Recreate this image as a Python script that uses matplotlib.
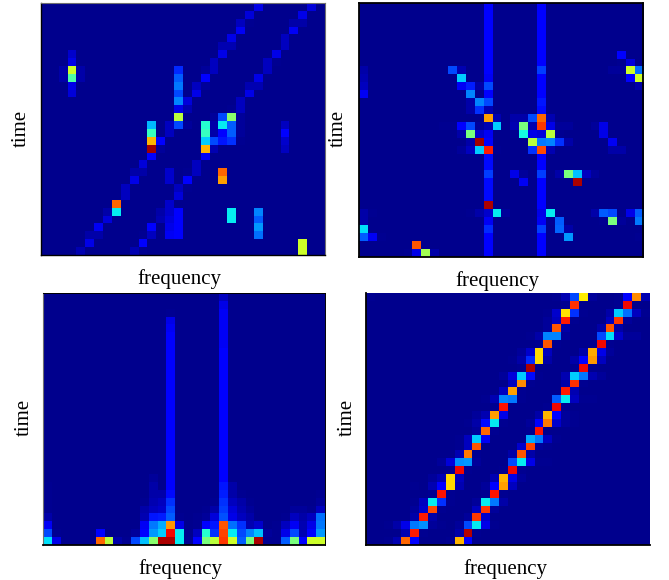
"""Four time-frequency heat maps, jet colour map, 2x2 layout."""
import matplotlib
matplotlib.use("Agg")
import matplotlib.pyplot as plt
from matplotlib.lines import Line2D
import numpy as np

plt.rcParams.update({
    "font.family": ["Liberation Serif", "DejaVu Serif"],
    "font.size": 15,
})

W, H = 669, 580
N_TIME = 32
N_FREQ = 32

# ── panel data: (row, column, value), row 0 is the top row ──
P1_CELLS = [
    (6, 3, .08), (7, 3, .1), (8, 3, .6), (9, 3, .45), (10, 3, .1), (11, 3, .09),
    (8, 2, .05), (9, 2, .05), (8, 4, .05), (9, 4, .05),
    (31, 4, .06), (30, 5, .1), (29, 5, .05), (29, 6, .05), (28, 6, .11),
    (27, 7, .09), (26, 7, .05), (26, 8, .36), (25, 8, .8), (24, 9, .07),
    (23, 9, .07), (22, 10, .1), (21, 10, .05), (21, 11, .05), (20, 11, .09),
    (19, 12, .12), (18, 12, .97), (17, 12, .72), (16, 12, .42), (15, 12, .31),
    (17, 13, .13), (18, 13, .04), (16, 14, .07), (15, 14, .07),
    (15, 15, .2), (14, 15, .58), (13, 15, .1), (12, 15, .26), (11, 15, .2),
    (10, 15, .25), (9, 15, .22), (8, 15, .17),
    (12, 16, .09), (13, 16, .06), (15, 16, .04), (11, 17, .1), (10, 17, .07),
    (10, 18, .04), (9, 18, .12), (8, 18, .04), (8, 19, .07), (7, 19, .07),
    (6, 20, .1), (5, 20, .06), (5, 21, .06), (4, 21, .1), (3, 22, .11),
    (2, 22, .07), (2, 23, .03), (1, 23, .09), (0, 24, .1),
    (31, 10, .06), (31, 11, .02), (30, 11, .12), (29, 11, .03), (29, 12, .07),
    (28, 12, .12), (27, 13, .06), (26, 13, .05),
    (25, 14, .08), (26, 14, .08), (27, 14, .09), (28, 14, .1), (29, 14, .11),
    (26, 15, .12), (27, 15, .12), (28, 15, .12), (29, 15, .12),
    (24, 15, .09), (23, 15, .07), (23, 16, .03), (22, 16, .13),
    (21, 14, .08), (22, 14, .08), (21, 16, .03), (21, 17, .07), (20, 17, .07),
    (19, 18, .11), (18, 18, .72), (17, 18, .33), (16, 18, .42), (15, 18, .4),
    (18, 19, .06), (17, 19, .2), (17, 20, .15), (17, 21, .18), (16, 20, .12),
    (15, 20, .36), (14, 20, .2), (14, 19, .04), (15, 19, .05), (16, 19, .05),
    (14, 21, .52), (15, 21, .22), (16, 21, .22), (13, 21, .03),
    (12, 22, .07), (13, 22, .07), (14, 22, .04), (15, 22, .04), (16, 22, .04),
    (17, 22, .03), (11, 23, .1), (10, 23, .06), (10, 24, .06), (9, 24, .1),
    (8, 25, .07), (7, 25, .07), (7, 26, .03), (6, 26, .1), (5, 27, .07),
    (4, 27, .07), (3, 28, .11), (2, 28, .05), (2, 29, .05), (1, 29, .1),
    (0, 30, .09),
    (15, 27, .07), (16, 27, .12), (17, 27, .08), (18, 27, .07),
    (21, 20, .8), (22, 20, .74), (26, 21, .36), (27, 21, .36),
    (26, 24, .26), (27, 24, .22), (28, 24, .28), (29, 24, .24),
    (30, 29, .6), (31, 29, .6),
]

P2_COL14 = [.13, .13, .13, .13, .13, .13, .13, .13, .13, .11, .2, .12, .2, .06, .74, .06,
            .11, .12, .88, .14, .14, .19, .14, .14, .14, .96, .08, .11, .17, .13, .13, .13]
P2_COL20 = [.13, .13, .13, .13, .13, .13, .13, .13, .19, .12, .13, .12, .15, .14, .8, .85,
            .09, .25, .83, .13, .13, .19, .13, .13, .13, .13, .1, .11, .19, .13, .13, .13]
P2_CELLS = [
    (8, 0, .05), (9, 0, .06), (10, 0, .07), (11, 0, .11), (26, 0, .05), (27, 0, .05),
    (28, 0, .35), (29, 0, .22), (26, 1, .03), (29, 1, .11), (29, 2, .03),
    (8, 10, .2), (8, 11, .06), (9, 11, .33), (10, 11, .11), (10, 12, .16),
    (11, 12, .26), (12, 12, .05), (12, 13, .26), (13, 12, .05), (13, 13, .18),
    (10, 13, .05),
    (15, 9, .03), (15, 10, .03), (15, 11, .12), (15, 12, .2), (15, 13, .04),
    (14, 15, .06), (15, 15, .33), (16, 11, .05), (16, 12, .5), (16, 13, .08),
    (17, 12, .05), (17, 13, .97), (18, 11, .04), (18, 12, .07), (18, 13, .33),
    (18, 15, .03),
    (14, 17, .05), (14, 18, .05), (14, 19, .2), (14, 21, .06),
    (15, 17, .06), (15, 18, .5), (15, 19, .06), (15, 21, .1), (15, 22, .04), (15, 23, .04),
    (16, 17, .03), (16, 18, .38), (16, 19, .1), (16, 21, .58), (16, 22, .03),
    (17, 19, .58), (17, 21, .26), (17, 22, .18), (17, 23, .05),
    (18, 19, .18), (18, 21, .06),
    (21, 17, .1), (21, 18, .04), (21, 22, .05), (21, 23, .5), (21, 24, .32),
    (21, 25, .07), (21, 26, .04), (22, 18, .11), (22, 24, .96),
    (15, 26, .04), (15, 27, .1), (16, 27, .1), (17, 28, .11), (18, 28, .05), (18, 29, .05),
    (6, 29, .12), (7, 29, .03), (7, 30, .09), (8, 28, .04), (8, 29, .04), (8, 30, .6),
    (8, 31, .24), (9, 30, .12), (9, 31, .6), (10, 31, .05),
    (26, 12, .03), (26, 13, .05), (26, 15, .36), (26, 16, .04), (26, 21, .36),
    (26, 26, .05), (26, 27, .22), (26, 28, .2), (26, 30, .1), (26, 31, .22),
    (27, 21, .03), (27, 22, .22), (27, 27, .03), (27, 28, .5), (27, 29, .04), (27, 31, .25),
    (28, 22, .23), (28, 23, .05), (29, 23, .28), (29, 31, .03),
    (30, 6, .82), (31, 6, .1), (31, 7, .55), (31, 8, .05), (31, 5, .03),
]

# panel 3 is mostly columns rising from the bottom: column -> values of the last rows
P3_COL14 = [0, 0, .03, .1, .11, .12, .12, .12, .12, .12, .12, .12, .12, .12, .12, .12,
            .12, .12, .12, .12, .12, .12, .12, .12, .13, .14, .18, .2, .22, .75, .9, .96]
P3_COL20 = [.07, .1, .11, .11, .11, .11, .11, .12, .12, .12, .12, .12, .12, .12, .12, .12,
            .12, .12, .12, .12, .12, .12, .12, .13, .15, .16, .18, .19, .21, .82, .84, .85]
P3_COLUMNS = {
    0: [.03, .03, .03, .03, .05, .11, .2, .35],
    1: [.03, .1],
    6: [.12, .8],
    7: [.58],
    8: [.05],
    9: [.03],
    10: [.04, .2],
    11: [.03, .05, .06, .11, .13, .32],
    12: [.04, .05, .05, .06, .07, .15, .25, .28, .52],
    13: [.05, .07, .08, .16, .3, .33, .96],
    15: [.03, .1, .36, .36],
    16: [.03],
    17: [.03, .03, .07, .12],
    18: [.03, .04, .12, .4, .5],
    19: [.03, .05, .09, .15, .18, .58],
    21: [.05, .05, .07, .09, .1, .24, .36, .6],
    22: [.03, .05, .06, .07, .18, .2, .22],
    23: [.03, .04, .05, .06, .26, .5],
    24: [.08, .32, .96],
    25: [.04, .03],
    26: [.03, .03, .03],
    27: [.03, .07, .1, .22],
    28: [.04, .07, .11, .2, .5],
    29: [.04, .05, .06, .06, .12],
    30: [.03, .07, .1, .12, .6],
    31: [.03, .04, .07, .24, .25, .28, .6],
}

# panel 4: the two ridges, row -> {column: value}
P4_LEFT = {
    31: {2: .03, 3: .06, 4: .8, 5: .12},
    30: {4: .06, 5: .88, 6: .02},
    29: {2: .03, 3: .05, 4: .1, 5: .25, 6: .27, 7: .04, 8: .02},
    28: {5: .05, 6: .88, 7: .05},
    27: {5: .04, 6: .08, 7: .83, 8: .03},
    26: {5: .03, 6: .07, 7: .36, 8: .18, 9: .03},
    25: {7: .03, 8: .89, 9: .03},
    24: {5: .03, 7: .06, 8: .12, 9: .68, 10: .06},
    23: {7: .04, 8: .06, 9: .68, 10: .07},
    22: {9: .03, 10: .9, 11: .03},
    21: {8: .04, 9: .09, 10: .27, 11: .28, 12: .04},
    20: {10: .06, 11: .78, 12: .03},
    19: {10: .03, 11: .07, 12: .82},
    18: {10: .03, 11: .07, 12: .33, 13: .11},
    17: {12: .04, 13: .8, 14: .03},
    16: {11: .03, 12: .05, 13: .14, 14: .36, 15: .03},
    15: {12: .04, 13: .06, 14: .74, 15: .1},
    14: {14: .03, 15: .89},
    13: {13: .03, 14: .06, 15: .26, 16: .25, 17: .03},
    12: {15: .07, 16: .74, 17: .03},
    11: {16: .07, 17: .76, 18: .03},
    10: {15: .04, 16: .09, 17: .33, 18: .14, 19: .03},
    9: {17: .03, 18: .96},
    8: {16: .03, 17: .05, 18: .17, 19: .68, 20: .05},
    7: {17: .04, 18: .08, 19: .68, 20: .07},
    6: {19: .03, 20: .82, 21: .03},
    5: {18: .03, 19: .05, 20: .26, 21: .26, 22: .04},
    4: {20: .04, 21: .82, 22: .05},
    3: {20: .04, 21: .07, 22: .88, 23: .03},
    2: {20: .03, 21: .08, 22: .67, 23: .18, 24: .03},
    1: {22: .03, 23: .86},
    0: {0: .03, 21: .03, 22: .06, 23: .2, 24: .66, 25: .04},
}
P4_RIGHT = {
    31: {9: .03, 10: .72, 11: .12},
    30: {10: .05, 11: .95, 12: .03},
    29: {10: .04, 11: .2, 12: .36, 13: .1, 14: .03},
    28: {11: .04, 12: .85, 13: .08},
    27: {12: .07, 13: .85, 14: .04},
    26: {12: .04, 13: .36, 14: .25, 15: .05},
    25: {13: .03, 14: .89, 15: .03},
    24: {13: .04, 14: .13, 15: .74, 16: .07},
    23: {14: .06, 15: .72, 16: .1, 17: .04},
    22: {15: .03, 16: .9, 17: .03},
    21: {16: .2, 17: .36, 18: .1, 19: .03, 20: .03},
    20: {16: .05, 17: .82, 18: .05},
    19: {17: .08, 18: .84, 19: .04, 20: .03},
    18: {18: .3, 19: .25, 20: .07, 21: .03},
    17: {18: .03, 19: .89},
    16: {18: .04, 19: .12, 20: .78, 21: .08, 22: .04, 23: .03},
    15: {19: .05, 20: .72, 21: .12, 22: .04, 23: .03},
    14: {20: .03, 21: .9, 22: .03},
    13: {21: .22, 22: .36, 23: .07, 24: .03, 25: .03},
    12: {22: .88, 23: .06},
    11: {22: .05, 23: .86, 24: .03},
    10: {22: .06, 23: .33, 24: .25, 25: .06, 26: .04},
    9: {23: .03, 24: .9},
    8: {23: .05, 24: .12, 25: .75, 26: .07},
    7: {24: .05, 25: .73, 26: .1, 27: .04},
    6: {26: .9, 27: .03},
    5: {26: .2, 27: .35, 28: .08, 29: .04, 30: .04},
    4: {26: .05, 27: .82, 28: .05},
    3: {27: .07, 28: .85, 29: .04},
    2: {27: .05, 28: .33, 29: .24, 30: .07, 31: .03},
    1: {28: .03, 29: .9},
    0: {28: .02, 29: .12, 30: .76, 31: .06},
}

XLABEL = "frequency"
YLABEL = "time"


def cells_to_grid(cells):
    grid = np.zeros((N_TIME, N_FREQ))
    for row, col, val in cells:
        grid[row, col] = val
    return grid


grid1 = cells_to_grid(P1_CELLS)

grid2 = cells_to_grid(P2_CELLS)
grid2[:, 14] = P2_COL14
grid2[:, 20] = P2_COL20

grid3 = np.zeros((N_TIME, N_FREQ))
for col, vals in P3_COLUMNS.items():
    grid3[N_TIME - len(vals):, col] = vals
grid3[:, 14] = P3_COL14
grid3[:, 20] = P3_COL20

grid4 = np.zeros((N_TIME, N_FREQ))
for ridge in (P4_LEFT, P4_RIGHT):
    for row, vals in ridge.items():
        for col, val in vals.items():
            grid4[row, col] = val

fig = plt.figure(figsize=(W / 100, H / 100), dpi=100, facecolor="white")

GREY = "#707070"
# spine colour and width for left, right, top, bottom; None hides it
spines1 = {"left": ("black", 1.0), "bottom": ("black", 1.0), "top": (GREY, 0.8), "right": (GREY, 0.8)}
spines2 = {"left": ("black", 1.3), "bottom": ("black", 1.3), "top": ("black", 1.3), "right": ("black", 1.3)}
spines3 = {"left": (GREY, 0.8), "bottom": ("black", 1.3), "top": ("black", 0.7), "right": ("black", 0.7)}
spines4 = {"left": ("black", 1.3), "bottom": ("black", 1.3), "top": None, "right": None}

# pixel boxes of the panels: left, top, right, bottom, then label positions
panels = [
    (grid1, spines1, 41, 3, 325, 255, 179.5, 279, 21, 128.5),
    (grid2, spines2, 358.5, 3, 643, 257, 497.5, 281, 338, 128.5),
    (grid3, spines3, 43.5, 293, 325, 545, 180.5, 569, 24.5, 417.5),
    (grid4, spines4, 366, 293, 650, 545, 505, 569, 347, 417.5),
]

for grid, spines, left, top, right, bottom, xl_x, xl_y, yl_x, yl_y in panels:
    ax = fig.add_axes([left / W, 1 - bottom / H, (right - left) / W, (bottom - top) / H])
    # the faint cells sit close to the background; keep them subdued
    shown = np.interp(grid, [0, .03, .07, .12, 1], [.012, .018, .055, .115, 1])
    ax.imshow(shown, cmap="jet", vmin=0, vmax=1, aspect="auto", interpolation="nearest")
    ax.set_xticks([])
    ax.set_yticks([])
    for side, style in spines.items():
        if style is None:
            ax.spines[side].set_visible(False)
        else:
            ax.spines[side].set_color(style[0])
            ax.spines[side].set_linewidth(style[1])
    fig.text(xl_x / W, 1 - xl_y / H, XLABEL, ha="center", va="center")
    fig.text(yl_x / W, 1 - yl_y / H, YLABEL, ha="center", va="center", rotation=90)

# stray specks right of the left-hand panels
for sx, sy in [(330, 140), (337, 429), (339.5, 435)]:
    fig.add_artist(Line2D([sx / W], [1 - sy / H], marker="o", markersize=1, color="#444444",
                          markeredgewidth=0, transform=fig.transFigure))

fig.savefig("out.png", dpi=100, facecolor="white")
plt.close(fig)
